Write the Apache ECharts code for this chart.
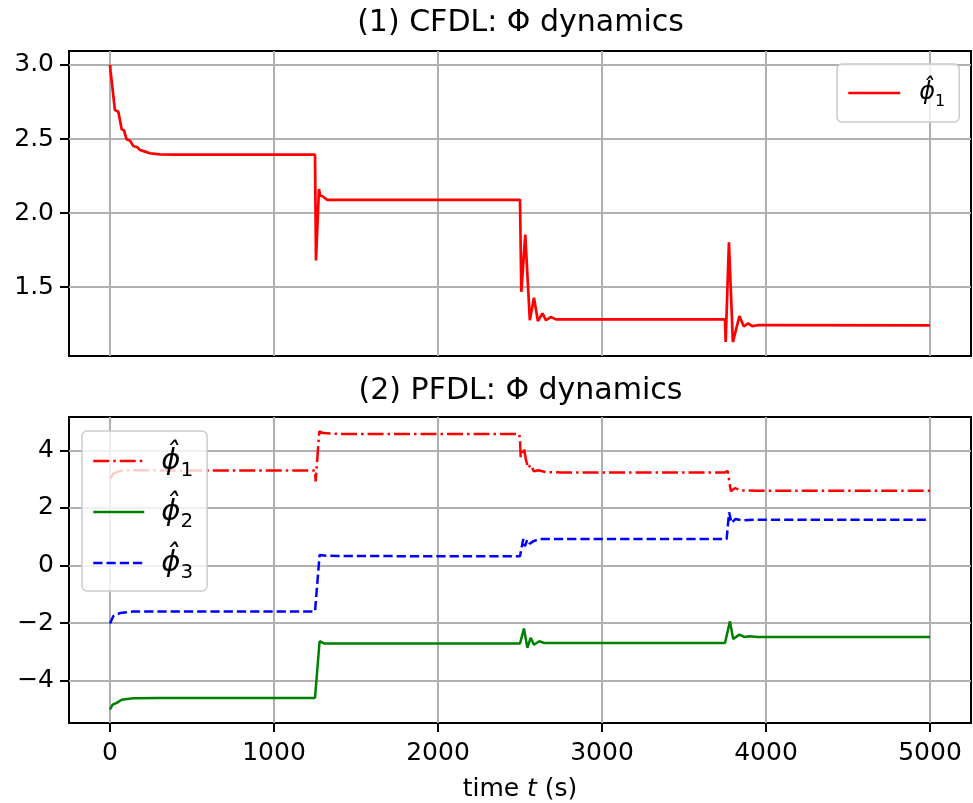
<!DOCTYPE html>
<html>
<head>
<meta charset="utf-8">
<script src="https://cdn.jsdelivr.net/npm/echarts@6/dist/echarts.min.js"></script>
<style>
html,body{margin:0;padding:0;background:#fff;}
#chart{width:973px;height:803px;}
</style>
</head>
<body>
<div id="chart"></div>
<script>
// ---- data ----
const xTicks = [0, 1000, 2000, 3000, 4000, 5000];
const topYTicks = [1.5, 2.0, 2.5, 3.0];
const botYTicks = [-4, -2, 0, 2, 4];

// (1) CFDL: phi1 estimate  [time, value]
const cfdlPhi1 = [[0,3.0],[4,2.953],[16,2.96],[30,2.695],[40,2.69],[51,2.684],[71,2.566],[85,2.56],[101,2.498],[122,2.489],[142,2.453],[167,2.444],[183,2.426],[213,2.415],[243,2.404],[304,2.397],[400,2.395],[1250,2.395],[1256,1.68],[1274,2.162],[1282,2.119],[1298,2.112],[1325,2.09],[2500,2.09],[2508,1.469],[2532,1.855],[2560,1.278],[2585,1.429],[2609,1.272],[2637,1.323],[2658,1.278],[2688,1.299],[2719,1.283],[3750,1.283],[3754,1.13],[3774,1.803],[3798,1.13],[3838,1.305],[3865,1.235],[3891,1.256],[3916,1.238],[3956,1.245],[5000,1.243]];

// (2) PFDL: phi1, phi2, phi3 estimates
const pfdlPhi1 = [[0,3.017],[20,3.19],[51,3.27],[101,3.306],[1250,3.305],[1254,2.924],[1276,4.66],[1300,4.60],[1400,4.57],[2495,4.57],[2500,4.40],[2504,3.77],[2524,4.08],[2536,3.68],[2550,3.39],[2565,3.50],[2585,3.27],[2611,3.31],[2662,3.24],[2750,3.236],[3750,3.236],[3766,3.29],[3786,2.58],[3810,2.69],[3850,2.61],[3950,2.60],[5000,2.60]];
const pfdlPhi2 = [[0,-5.0],[16,-4.83],[41,-4.77],[71,-4.66],[142,-4.61],[300,-4.60],[1250,-4.60],[1278,-2.63],[1309,-2.71],[2500,-2.71],[2524,-2.19],[2545,-2.86],[2565,-2.51],[2585,-2.75],[2618,-2.63],[2648,-2.69],[3750,-2.69],[3780,-1.94],[3800,-2.55],[3837,-2.40],[3867,-2.48],[3898,-2.46],[3950,-2.48],[5000,-2.48]];
const pfdlPhi3 = [[0,-2.017],[20,-1.76],[61,-1.65],[142,-1.60],[1250,-1.60],[1278,0.368],[1318,0.344],[1400,0.33],[2500,0.32],[2520,0.92],[2530,0.667],[2544,0.90],[2560,0.76],[2580,0.84],[2618,0.92],[3760,0.92],[3775,1.85],[3790,1.48],[3815,1.62],[3855,1.57],[3950,1.594],[5000,1.594]];

const legendLabels = {
  'cfdl1': '{g|}{p|ϕ\u0302}{s|1}',
  'pfdl1': '{g|}{p|ϕ\u0302}{s|1}',
  'pfdl2': '{g|}{p|ϕ\u0302}{s|2}',
  'pfdl3': '{g|}{p|ϕ\u0302}{s|3}'
};

const FONT = 'DejaVu Sans';
const chart = echarts.init(document.getElementById('chart'), null, {renderer: 'canvas'});

function minusFmt(v) { return String(v).replace('-', '\u2212'); }

const gridStyle = {show: true, lineStyle: {color: '#b0b0b0', width: 2}};
const tickStyle = {show: true, inside: false, length: 9, lineStyle: {color: '#000', width: 2}};
const labelStyle = {color: '#000', fontFamily: FONT, fontSize: 25};
const hiddenSymbol = {color: 'rgba(0,0,0,0)', borderWidth: 0, opacity: 0};
const noLine = {show: false, onZero: false};

const option = {
  animation: false,
  backgroundColor: '#fff',
  title: [
    {text: '(1) CFDL: Φ dynamics', left: 520.5, top: 8, textAlign: 'center', padding: 0,
     textStyle: {fontFamily: FONT, fontSize: 30, fontWeight: 'normal', color: '#000'}},
    {text: '(2) PFDL: Φ dynamics', left: 520.5, top: 376, textAlign: 'center', padding: 0,
     textStyle: {fontFamily: FONT, fontSize: 30, fontWeight: 'normal', color: '#000'}}
  ],
  grid: [
    {left: 69, right: 2, top: 51, height: 305, show: true, borderColor: '#000', borderWidth: 2, backgroundColor: 'transparent'},
    {left: 69, right: 2, top: 417, height: 306, show: true, borderColor: '#000', borderWidth: 2, backgroundColor: 'transparent'}
  ],
  xAxis: [
    {type: 'value', gridIndex: 0, min: -250, max: 5250, position: 'bottom',
     axisLine: noLine, axisTick: {show: false, customValues: xTicks},
     axisLabel: {show: false, customValues: xTicks}, splitLine: gridStyle},
    {type: 'value', gridIndex: 1, min: -250, max: 5250, position: 'bottom',
     axisLine: noLine, axisTick: Object.assign({customValues: xTicks}, tickStyle),
     axisLabel: Object.assign({customValues: xTicks, margin: 18, formatter: v => String(v)}, labelStyle),
     splitLine: gridStyle,
     name: '{n|time }{i|t}{n| (s)}', nameLocation: 'middle', nameGap: 54,
     nameTextStyle: {rich: {
       n: {fontFamily: FONT, fontSize: 25, color: '#000'},
       i: {fontFamily: FONT, fontSize: 25, fontStyle: 'italic', color: '#000'}
     }}}
  ],
  yAxis: [
    {type: 'value', gridIndex: 0, min: 1.036, max: 3.094, position: 'left',
     axisLine: noLine, axisTick: Object.assign({customValues: topYTicks}, tickStyle),
     axisLabel: Object.assign({customValues: topYTicks, margin: 15, formatter: v => v.toFixed(1)}, labelStyle),
     splitLine: gridStyle},
    {type: 'value', gridIndex: 1, min: -5.47, max: 5.16, position: 'left',
     axisLine: noLine, axisTick: Object.assign({customValues: botYTicks}, tickStyle),
     axisLabel: Object.assign({customValues: botYTicks, margin: 15, formatter: minusFmt}, labelStyle),
     splitLine: gridStyle}
  ],
  legend: [
    {data: ['cfdl1'], orient: 'vertical', left: 837, top: 64,
     padding: [12, 14, 12, 10], itemWidth: 52, itemHeight: 14,
     backgroundColor: 'rgba(255,255,255,0.8)', borderColor: '#cccccc', borderWidth: 1.5, borderRadius: 5,
     lineStyle: {width: 2.5}, itemStyle: hiddenSymbol,
     formatter: n => legendLabels[n],
     textStyle: {lineHeight: 34, rich: {
       g: {width: 14, lineHeight: 34},
       p: {fontFamily: FONT, fontSize: 24, fontStyle: 'italic', color: '#000', lineHeight: 34},
       s: {fontFamily: FONT, fontSize: 16, color: '#000', lineHeight: 16, verticalAlign: 'bottom'}
     }}},
    {data: ['pfdl1', 'pfdl2', 'pfdl3'], orient: 'vertical', left: 82, top: 431,
     padding: [10, 14, 8, 10], itemWidth: 51, itemHeight: 14, itemGap: 11,
     backgroundColor: 'rgba(255,255,255,0.8)', borderColor: '#cccccc', borderWidth: 1.5, borderRadius: 5,
     lineStyle: {width: 2.5}, itemStyle: hiddenSymbol,
     formatter: n => legendLabels[n],
     textStyle: {lineHeight: 40, rich: {
       g: {width: 12, lineHeight: 40},
       p: {fontFamily: FONT, fontSize: 29, fontStyle: 'italic', color: '#000', lineHeight: 40},
       s: {fontFamily: FONT, fontSize: 20, color: '#000', lineHeight: 20, verticalAlign: 'bottom'}
     }}}
  ],
  series: [
    {name: 'cfdl1', type: 'line', xAxisIndex: 0, yAxisIndex: 0, data: cfdlPhi1,
     symbol: 'none', showSymbol: false, color: '#ff0000', lineStyle: {color: '#ff0000', width: 2.7}},
    {name: 'pfdl1', type: 'line', xAxisIndex: 1, yAxisIndex: 1, data: pfdlPhi1,
     symbol: 'none', showSymbol: false, color: '#ff0000', lineStyle: {color: '#ff0000', width: 2.5, type: [16, 4, 2.5, 4]}},
    {name: 'pfdl2', type: 'line', xAxisIndex: 1, yAxisIndex: 1, data: pfdlPhi2,
     symbol: 'none', showSymbol: false, color: '#008000', lineStyle: {color: '#008000', width: 2.5}},
    {name: 'pfdl3', type: 'line', xAxisIndex: 1, yAxisIndex: 1, data: pfdlPhi3,
     symbol: 'none', showSymbol: false, color: '#0000ff', lineStyle: {color: '#0000ff', width: 2.5, type: [9.25, 4]}}
  ]
};
chart.setOption(option);
</script>
</body>
</html>
